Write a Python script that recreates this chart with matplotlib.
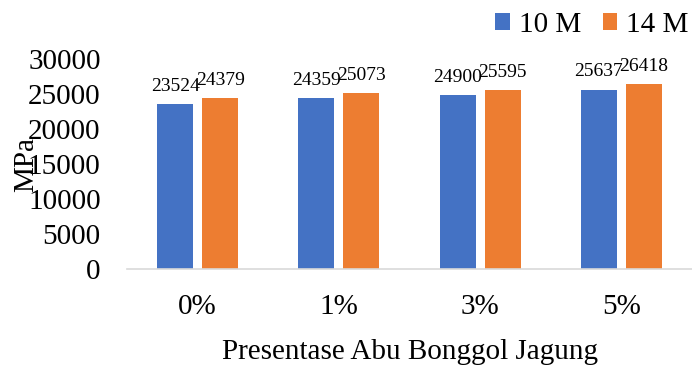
import numpy as np
import matplotlib
matplotlib.use("Agg")
import matplotlib.pyplot as plt

plt.rcParams['font.family'] = ['Liberation Serif', 'DejaVu Serif']

categories = ['0%', '1%', '3%', '5%']
series_names = ['10 M', '14 M']
vals_10m = [23524, 24359, 24900, 25637]
vals_14m = [24379, 25073, 25595, 26418]
yticks = [0, 5000, 10000, 15000, 20000, 25000, 30000]

blue = '#4472C4'
orange = '#ED7D31'

fig = plt.figure(figsize=(6.92, 3.65), dpi=100)
ax = fig.add_axes([127/692, 1 - 269/365, 1 - 127/692, 210/365])

x = np.arange(len(categories))
w = 0.255
off = (w + 0.064) / 2
b1 = ax.bar(x - off, vals_10m, w, color=blue, label=series_names[0])
b2 = ax.bar(x + off, vals_14m, w, color=orange, label=series_names[1])

# value labels sit a little above each bar
for bars, vals in [(b1, vals_10m), (b2, vals_14m)]:
    for rect, v in zip(bars, vals):
        ax.text(rect.get_x() + rect.get_width() / 2, v + 1300, str(v),
                ha='center', va='bottom', fontsize=14)

ax.set_xlim(-0.5, 3.5)
ax.set_ylim(0, 30000)
ax.set_yticks(yticks)
ax.set_xticks(x)
ax.set_xticklabels(categories)
ax.tick_params(axis='both', length=0, labelsize=21)
ax.tick_params(axis='y', pad=19)
ax.tick_params(axis='x', pad=18)

for s in ['top', 'right', 'left']:
    ax.spines[s].set_visible(False)
ax.spines['bottom'].set_color('#d9d9d9')
ax.spines['bottom'].set_linewidth(1.2)

ax.set_xlabel('Presentase Abu Bonggol Jagung', fontsize=21, labelpad=14)
fig.text(26/692, 1 - 165/365, 'MPa', rotation=90, fontsize=21,
         ha='center', va='center')

fig.legend(handles=[b1, b2], labels=series_names, loc='upper right',
           bbox_to_anchor=(0.999, 0.975), ncol=2, frameon=False, fontsize=21,
           handlelength=0.5, handleheight=0.5, handletextpad=0.3,
           columnspacing=0.75, borderpad=0.1, borderaxespad=0.0)

fig.savefig('out.png', dpi=100)
